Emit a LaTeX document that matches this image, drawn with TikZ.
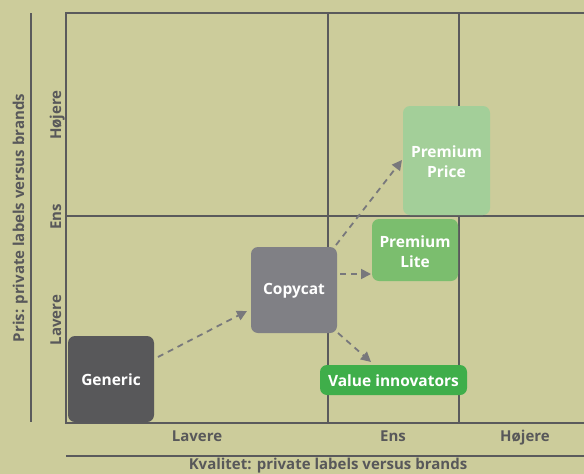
\documentclass[tikz,border=0pt]{standalone}
\usepackage{fontspec}
\setmainfont{Open Sans}
\usetikzlibrary{arrows.meta}
\definecolor{bg}{HTML}{CCCC9B}
\definecolor{ln}{HTML}{5A5A5C}
\definecolor{txt}{HTML}{58585A}
\definecolor{cgen}{HTML}{58585A}
\definecolor{ccopy}{HTML}{808085}
\definecolor{cpp}{HTML}{A3CF99}
\definecolor{cpl}{HTML}{7BBE6E}
\definecolor{cvi}{HTML}{3FAE4A}
\definecolor{arr}{HTML}{78787C}
\begin{document}
\begin{tikzpicture}[x=1pt,y=-1pt,
  grid/.style={draw=ln,line width=1.6pt},
  axlbl/.style={text=txt,font=\fontsize{15}{18}\selectfont\bfseries,anchor=base,inner sep=0pt},
  box/.style={rounded corners=7pt,text=white,font=\fontsize{15.5}{20}\selectfont\bfseries,align=center},
  flow/.style={draw=arr,line width=1.8pt,dash pattern=on 6pt off 5pt,-{Triangle[length=10pt,width=10pt]}}]
\useasboundingbox[fill=bg] (0,0) rectangle (584,474);
% frame
\coordinate (tl) at (66,13);
\coordinate (bl) at (66,423);
\draw[grid] (584,13) -- (tl) -- (bl) -- (584,423);
\draw[grid] (328,13) -- (328,423);
\draw[grid] (459,13) -- (459,423);
\draw[grid] (66,216) -- (584,216);
% axes lines
\draw[grid] (31,13) -- (31,422);
\draw[grid] (66,456) -- (584,456);
% labels
\node[axlbl,rotate=90] (py) at (24,218) {Pris: private labels versus brands};
\node[axlbl,rotate=90] (yh) at (61,115) {Højere};
\node[axlbl,rotate=90] (ye) at (61,217) {Ens};
\node[axlbl,rotate=90] (yl) at (61,320) {Lavere};
\node[axlbl] (xl) at (197,441) {Lavere};
\node[axlbl] (xe) at (393,441) {Ens};
\node[axlbl] (xh) at (525,441) {Højere};
\node[axlbl] (px) at (328,469) {Kvalitet: private labels versus brands};
% boxes
\path[box,fill=cgen] (68,336) rectangle (154,422);
\node[box] (gen) at (111,380) {Generic};
\path[box,fill=ccopy] (251,247) rectangle (337,333);
\node[box] (copy) at (294,291) {Copycat};
\path[box,fill=cpp] (403,106) rectangle (490,215);
\node[box] (pp) at (446.5,162) {Premium\\Price};
\path[box,fill=cpl] (372,219) rectangle (458,281);
\node[box] (pl) at (415,251.5) {Premium\\Lite};
\path[box,fill=cvi] (320,365) rectangle (467,395);
\node[box] (vi) at (393.5,380.5) {Value innovators};
% arrows
\coordinate (g1) at (158,357);
\coordinate (g2) at (247,311);
\coordinate (c1) at (336,245);
\coordinate (c2) at (402,160);
\coordinate (c3) at (340,274);
\coordinate (c4) at (371,274);
\coordinate (c5) at (338,333);
\coordinate (c6) at (371,362);
\draw[flow] (g1) -- (g2);
\draw[flow] (c1) -- (c2);
\draw[flow] (c3) -- (c4);
\draw[flow] (c5) -- (c6);
\end{tikzpicture}
\end{document}
